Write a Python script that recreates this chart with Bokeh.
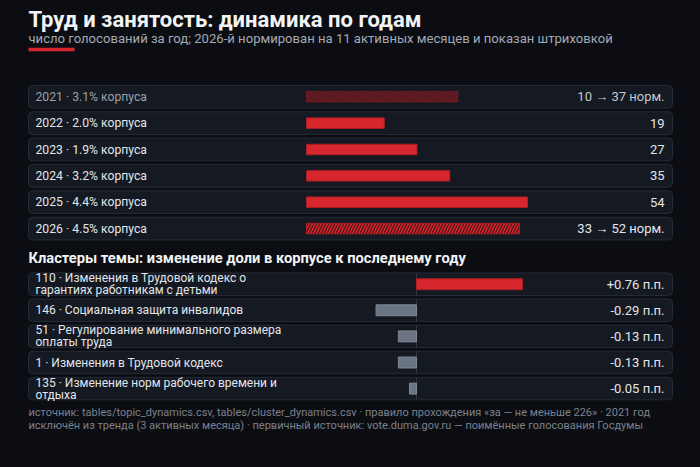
from bokeh.plotting import figure
from bokeh.models import ColumnDataSource, Range1d
from bokeh.core.properties import value
from bokeh.embed import file_html
from bokeh.resources import INLINE

# data
years = [2021, 2022, 2023, 2024, 2025, 2026]
share = [3.1, 2.0, 1.9, 3.2, 4.4, 4.5]
votes = [10, 19, 27, 35, 54, 33]
votes_norm = [37, None, None, None, None, 52]

cluster_ids = [110, 146, 51, 1, 135]
cluster_names = [
    "Изменения в Трудовой кодекс о\nгарантиях работникам с детьми",
    "Социальная защита инвалидов",
    "Регулирование минимального размера\nоплаты труда",
    "Изменения в Трудовой кодекс",
    "Изменение норм рабочего времени и\nотдыха",
]
cluster_delta = [0.76, -0.29, -0.13, -0.13, -0.05]

TITLE = "Труд и занятость: динамика по годам"
SUBTITLE = "число голосований за год; 2026-й нормирован на 11 активных месяцев и показан штриховкой"
HEADING = "Кластеры темы: изменение доли в корпусе к последнему году"
FOOTER = [
    "источник: tables/topic_dynamics.csv, tables/cluster_dynamics.csv · правило прохождения «за — не меньше 226» · 2021 год",
    "исключён из тренда (3 активных месяца) · первичный источник: vote.duma.gov.ru — поимённые голосования Госдумы",
]

# styling / layout (pixels from top-left)
BG = "#0b0d12"
PANEL = "#141922"
PANEL_LINE = "#262c37"
RED = "#d7262d"
GREY = "#6b7482"
TXT = "#e3e6ea"
FONT = value("Roboto")
W, H = 700, 467
PL, PR = 28, 672            # panel left / right
YR_C0, YR_STEP = 96.3, 26.35  # year rows
CL_C0, CL_STEP = 283.7, 26.1  # cluster rows
YR_ORIGIN, YR_FULL = 306, 527  # bar zero and end of longest bar
CL_ORIGIN, CL_FULL = 416, 522

p = figure(width=W, height=H, x_range=Range1d(0, W), y_range=Range1d(H, 0),
           output_backend="svg", toolbar_location=None,
           x_axis_location=None, y_axis_location=None,
           min_border_left=0, min_border_right=0, min_border_top=0, min_border_bottom=0)
p.grid.visible = False
p.outline_line_color = None
p.background_fill_color = BG
p.border_fill_color = BG

# header
p.text(x=[PL], y=[19], text=[TITLE], text_font=FONT, text_font_size="22px",
       text_font_style="bold", text_color="#f2f3f5", text_baseline="middle")
p.text(x=[PL], y=[38], text=[SUBTITLE], text_font=FONT, text_font_size="13.1px",
       text_color="#a4aab4", text_baseline="middle")
p.quad(left=[PL], right=[74], top=[47.3], bottom=[50.7], fill_color=RED, line_color=None)

# years section
n = len(years)
bar_len = [vn if vn is not None else v for v, vn in zip(votes, votes_norm)]
k = (YR_FULL - YR_ORIGIN) / max(bar_len)
p.extra_x_ranges["votes"] = Range1d(-YR_ORIGIN / k, (W - YR_ORIGIN) / k)
p.extra_y_ranges["years"] = Range1d((H - YR_C0) / YR_STEP, -YR_C0 / YR_STEP)

ysrc = ColumnDataSource(dict(
    idx=list(range(n)),
    bar_len=bar_len,
    top=[i - 0.43 for i in range(n)],
    bottom=[i + 0.43 for i in range(n)],
    label=[f"{y} · {s:.1f}% корпуса" for y, s in zip(years, share)],
    val=[f"{v} → {vn} норм." if vn is not None else str(v) for v, vn in zip(votes, votes_norm)],
    pattern=["/" if vn is not None else " " for vn in votes_norm],
    alpha=[0.45 if y == 2021 else 1.0 for y in years],
    halpha=[0.4 if y == 2021 else 0.8 for y in years],
    lcol=["#9aa0a9" if y == 2021 else TXT for y in years],
    vcol=["#c3c7ce" if y == 2021 else TXT for y in years],
))
p.quad(left=PL, right=PR, top="top", bottom="bottom", source=ysrc, y_range_name="years",
       fill_color=PANEL, line_color=PANEL_LINE, border_radius=4)
p.hbar(y="idx", left=0, right="bar_len", height=0.4, source=ysrc,
       x_range_name="votes", y_range_name="years",
       fill_color=RED, fill_alpha="alpha", line_color="#a81f25", line_alpha="alpha",
       hatch_pattern="pattern", hatch_color="#1c0a0d", hatch_alpha="halpha",
       hatch_scale=6, hatch_weight=1.2)
p.text(x=PL + 7, y="idx", text="label", source=ysrc, y_range_name="years",
       text_font=FONT, text_font_size="12.2px", text_color="lcol", text_baseline="middle")
p.text(x=PR - 8, y="idx", text="val", source=ysrc, y_range_name="years",
       text_font=FONT, text_font_size="13px", text_color="vcol", text_baseline="middle",
       text_align="right")

# heading
p.text(x=[PL], y=[257.5], text=[HEADING], text_font=FONT, text_font_size="14.7px",
       text_font_style="bold", text_color="#f2f3f5", text_baseline="middle")

# clusters section
m = len(cluster_ids)
kc = (CL_FULL - CL_ORIGIN) / max(abs(d) for d in cluster_delta)
p.extra_x_ranges["delta"] = Range1d(-CL_ORIGIN / kc, (W - CL_ORIGIN) / kc)
p.extra_y_ranges["clusters"] = Range1d((H - CL_C0) / CL_STEP, -CL_C0 / CL_STEP)

csrc = ColumnDataSource(dict(
    idx=list(range(m)),
    delta=cluster_delta,
    label=[f"{c} · {nm}" for c, nm in zip(cluster_ids, cluster_names)],
    val=[f"{d:+.2f} п.п." for d in cluster_delta],
    color=[RED if d > 0 else GREY for d in cluster_delta],
    lcolor=["#a81f25" if d > 0 else "#7f8896" for d in cluster_delta],
    top=[i - 0.43 for i in range(m)],
    bottom=[i + 0.43 for i in range(m)],
))
p.quad(left=PL, right=PR, top="top", bottom="bottom", source=csrc, y_range_name="clusters",
       fill_color=PANEL, line_color=PANEL_LINE, border_radius=4)
p.segment(x0=0, x1=0, y0="top", y1="bottom", source=csrc,
          x_range_name="delta", y_range_name="clusters", line_color="#303744", line_width=1)
p.hbar(y="idx", left=0, right="delta", height=0.42, source=csrc,
       x_range_name="delta", y_range_name="clusters",
       fill_color="color", line_color="lcolor")
p.text(x=PL + 7, y="idx", text="label", source=csrc, y_range_name="clusters",
       text_font=FONT, text_font_size="12px", text_color=TXT, text_baseline="middle",
       text_line_height=0.85)
p.text(x=PR - 8, y="idx", text="val", source=csrc, y_range_name="clusters",
       text_font=FONT, text_font_size="13px", text_color=TXT, text_baseline="middle",
       text_align="right")

# footer
p.text(x=[PL, PL], y=[411.5, 425], text=FOOTER, text_font=FONT, text_font_size="11px",
       text_color="#7b818c", text_baseline="middle")

html = file_html(p, INLINE, title="Труд и занятость")
html = html.replace("</head>", "<style>html, body { background: %s; }</style></head>" % BG)
open("out.html", "w").write(html)
